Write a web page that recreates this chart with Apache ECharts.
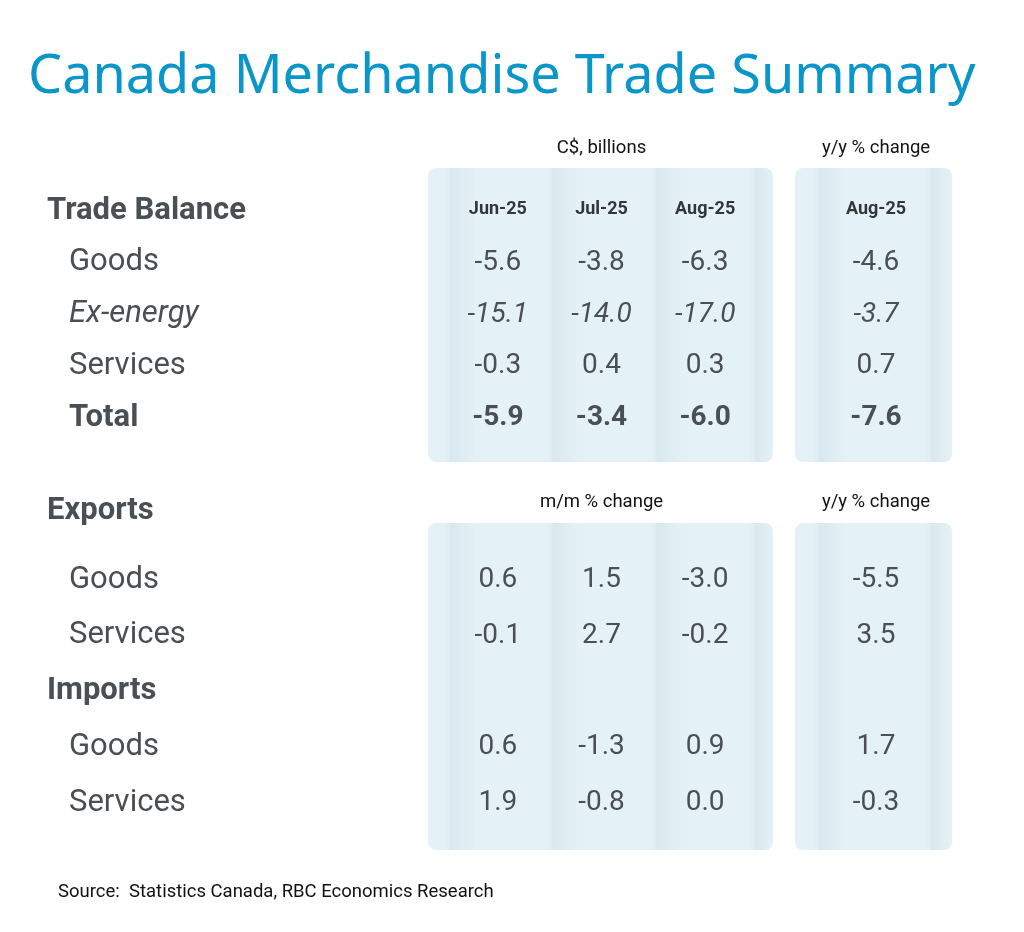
<!DOCTYPE html>
<html>
<head>
<meta charset="utf-8">
<script src="https://cdn.jsdelivr.net/npm/echarts@6/dist/echarts.min.js"></script>
<style>
  html, body { margin: 0; padding: 0; background: #ffffff; }
  #chart { width: 1024px; height: 932px; }
</style>
</head>
<body>
<div id="chart"></div>
<script>
// ---- Data ----
const titleText = 'Canada Merchandise Trade Summary';
const sourceText = 'Source:  Statistics Canada, RBC Economics Research';
const months = ['Jun-25', 'Jul-25', 'Aug-25'];
const yoyMonth = ['Aug-25'];
const balanceRows = ['Trade Balance', 'Goods', 'Ex-energy', 'Services', 'Total'];
const balanceGoods = [-5.6, -3.8, -6.3];
const balanceExEnergy = [-15.1, -14.0, -17.0];
const balanceServices = [-0.3, 0.4, 0.3];
const balanceTotal = [-5.9, -3.4, -6.0];
const balanceYoY = [-4.6, -3.7, 0.7, -7.6];
const flowRows = ['Goods', 'Services', 'Imports', 'Goods', 'Services'];
const exportsGoodsMoM = [0.6, 1.5, -3.0];
const exportsServicesMoM = [-0.1, 2.7, -0.2];
const importsGoodsMoM = [0.6, -1.3, 0.9];
const importsServicesMoM = [1.9, -0.8, 0.0];
const exportsYoY = [-5.5, 3.5];
const importsYoY = [1.7, -0.3];
const unitsLabel = 'C$, billions';
const mmLabel = 'm/m % change';
const yyLabel = 'y/y % change';

// ---- Styles ----
const TXT = '#4a4f53';
const FONT = 'Roboto';
const headerRows = { 'Trade Balance': true, 'Imports': true };

function rowLabelFormatter(value) {
  if (headerRows[value]) return '{h|' + value + '}';
  if (value === 'Ex-energy') return '{i|' + value + '}';
  if (value === 'Total') return '{b|' + value + '}';
  return '{n|' + value + '}';
}
const rowRich = {
  h: { fontFamily: FONT, fontSize: 31, fontWeight: 'bold', color: TXT },
  n: { fontFamily: FONT, fontSize: 31, color: TXT, padding: [0, 0, 0, 22] },
  i: { fontFamily: FONT, fontSize: 31, fontStyle: 'italic', color: TXT, padding: [0, 0, 0, 22] },
  b: { fontFamily: FONT, fontSize: 31, fontWeight: 'bold', color: TXT, padding: [0, 0, 0, 22] }
};

function styleFor(rowName) {
  if (rowName === 'Ex-energy') return { fontStyle: 'italic' };
  if (rowName === 'Total') return { fontWeight: 'bold' };
  return {};
}

function cells(rowsValues, rowIndexes, rowNames) {
  const out = [];
  rowsValues.forEach((vals, k) => {
    vals.forEach((v, c) => {
      out.push({ value: [c, rowIndexes[k], v], label: styleFor(rowNames[rowIndexes[k]]) });
    });
  });
  return out;
}
function columnCells(vals, rowIndexes, rowNames) {
  return vals.map((v, k) => ({ value: [0, rowIndexes[k], v], label: styleFor(rowNames[rowIndexes[k]]) }));
}

const topData = cells([balanceGoods, balanceExEnergy, balanceServices, balanceTotal], [1, 2, 3, 4], balanceRows);
const topYoY = columnCells(balanceYoY, [1, 2, 3, 4], balanceRows);
const botData = cells([exportsGoodsMoM, exportsServicesMoM, importsGoodsMoM, importsServicesMoM], [0, 1, 3, 4], flowRows);
const botYoY = columnCells(exportsYoY.concat(importsYoY), [0, 1, 3, 4], flowRows);

function panelFill(width, bounds) {
  const base = '#e4f2f8', dark = '#d9e7ee', mid = '#e0eef4';
  const stops = [{ offset: 0, color: base }];
  const fade = 26 / width;
  bounds.forEach(b => {
    const o = b / width;
    stops.push({ offset: Math.max(0, o - 6 / width), color: base });
    stops.push({ offset: Math.max(0, o - 1 / width), color: mid });
    stops.push({ offset: o, color: dark });
    stops.push({ offset: Math.min(1, o + fade), color: base });
  });
  stops.push({ offset: 1, color: base });
  return { type: 'linear', x: 0, y: 0, x2: 1, y2: 0, colorStops: stops };
}

const labelBase = {
  show: true, position: 'inside', fontFamily: FONT, fontSize: 28, color: TXT,
  textBorderWidth: 0, opacity: 1,
  formatter: p => p.value[2].toFixed(1)
};
function cellSeries(x, y, data) {
  return {
    type: 'scatter', xAxisIndex: x, yAxisIndex: y, data: data,
    symbolSize: 1, itemStyle: { color: 'rgba(0,0,0,0)', opacity: 1 },
    label: labelBase, emphasis: { disabled: true }, silent: true, z: 5
  };
}

const hiddenAxisBits = { axisLine: { show: false }, axisTick: { show: false }, splitLine: { show: false } };
const nameStyle = { fontFamily: FONT, fontSize: 18.5, color: '#111111' };
const headStyle = { show: true, inside: true, margin: 15, fontFamily: FONT, fontSize: 18, fontWeight: 'bold', color: '#333638' };

const chart = echarts.init(document.getElementById('chart'), null, { renderer: 'canvas' });
chart.setOption({
  backgroundColor: '#ffffff',
  animation: false,
  title: {
    text: titleText, left: 23, top: 46,
    textStyle: { fontFamily: 'Noto Sans', fontSize: 54, fontWeight: 'normal', color: '#0a96c8' }
  },
  graphic: [
    { type: 'rect', shape: { x: 428, y: 168, width: 345, height: 294, r: 8 }, style: { fill: panelFill(345, [22, 125, 229, 327]) }, z: -1 },
    { type: 'rect', shape: { x: 795, y: 168, width: 157, height: 294, r: 8 }, style: { fill: panelFill(157, [24, 136]) }, z: -1 },
    { type: 'rect', shape: { x: 428, y: 523, width: 345, height: 327, r: 8 }, style: { fill: panelFill(345, [22, 125, 229, 327]) }, z: -1 },
    { type: 'rect', shape: { x: 795, y: 523, width: 157, height: 327, r: 8 }, style: { fill: panelFill(157, [24, 136]) }, z: -1 },
    { type: 'text', x: 47, y: 511, style: { text: 'Exports', font: 'bold 31px Roboto', fill: TXT, textVerticalAlign: 'middle' } },
    { type: 'text', x: 58, y: 892, style: { text: sourceText, font: '18.5px Roboto', fill: '#111111', textVerticalAlign: 'middle' } }
  ],
  grid: [
    { left: 446, width: 311, top: 185, height: 259 },
    { left: 820, width: 112, top: 185, height: 259 },
    { left: 446, width: 311, top: 552, height: 279 },
    { left: 820, width: 112, top: 552, height: 279 }
  ],
  xAxis: [
    Object.assign({ type: 'category', gridIndex: 0, data: months, position: 'top', axisLabel: headStyle,
      name: unitsLabel, nameLocation: 'middle', nameGap: 27, nameTextStyle: nameStyle }, hiddenAxisBits),
    Object.assign({ type: 'category', gridIndex: 1, data: yoyMonth, position: 'top', axisLabel: headStyle,
      name: yyLabel, nameLocation: 'middle', nameGap: 27, nameTextStyle: nameStyle }, hiddenAxisBits),
    Object.assign({ type: 'category', gridIndex: 2, data: months, position: 'top', axisLabel: { show: false },
      name: mmLabel, nameLocation: 'middle', nameGap: 40, nameTextStyle: nameStyle }, hiddenAxisBits),
    Object.assign({ type: 'category', gridIndex: 3, data: yoyMonth, position: 'top', axisLabel: { show: false },
      name: yyLabel, nameLocation: 'middle', nameGap: 40, nameTextStyle: nameStyle }, hiddenAxisBits)
  ],
  yAxis: [
    Object.assign({ type: 'category', gridIndex: 0, data: balanceRows, inverse: true,
      axisLabel: { show: true, align: 'left', margin: 399, formatter: rowLabelFormatter, rich: rowRich } }, hiddenAxisBits),
    Object.assign({ type: 'category', gridIndex: 1, data: balanceRows, inverse: true, axisLabel: { show: false } }, hiddenAxisBits),
    Object.assign({ type: 'category', gridIndex: 2, data: flowRows, inverse: true,
      axisLabel: { show: true, align: 'left', margin: 399, formatter: rowLabelFormatter, rich: rowRich } }, hiddenAxisBits),
    Object.assign({ type: 'category', gridIndex: 3, data: flowRows, inverse: true, axisLabel: { show: false } }, hiddenAxisBits)
  ],
  series: [
    cellSeries(0, 0, topData),
    cellSeries(1, 1, topYoY),
    cellSeries(2, 2, botData),
    cellSeries(3, 3, botYoY)
  ]
});
</script>
</body>
</html>
